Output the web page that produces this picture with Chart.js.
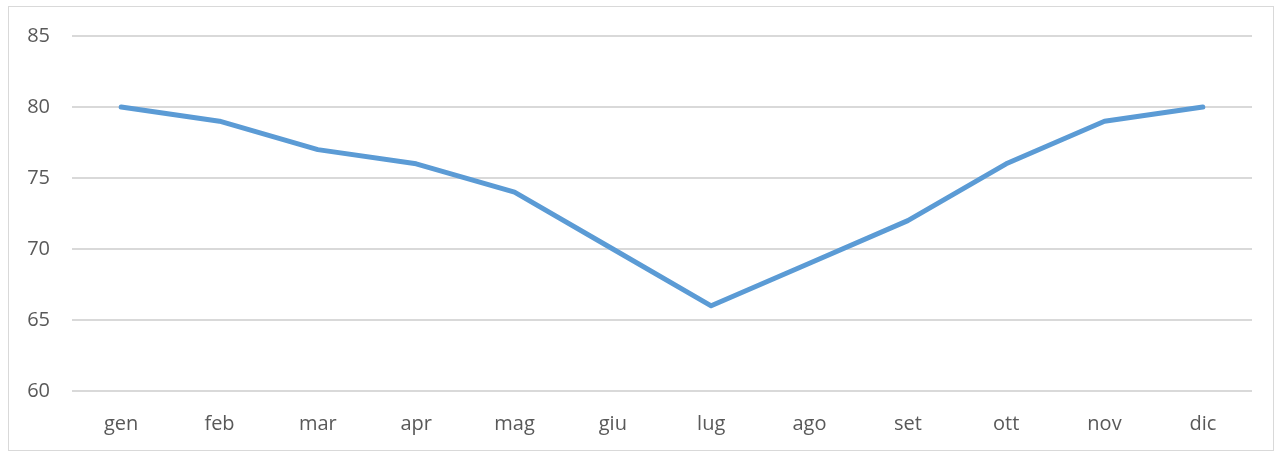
<!DOCTYPE html>
<html>
<head>
<meta charset="utf-8">
<script src="https://cdn.jsdelivr.net/npm/chart.js@4"></script>
<style>
  body { margin: 0; background: #fff; }
  #box { position: absolute; left: 8px; top: 6px; width: 1264px; height: 443px; border: 1px solid #d9d9d9; }
</style>
</head>
<body>
<div id="box"><canvas id="grafico" width="1264" height="443"></canvas></div>
<script>
var mesi = ['gen', 'feb', 'mar', 'apr', 'mag', 'giu', 'lug', 'ago', 'set', 'ott', 'nov', 'dic']
var valori = [80, 79, 77, 76, 74, 70, 66, 69, 72, 76, 79, 80]
var tickY = [60, 65, 70, 75, 80, 85]

GraficoDiLinea()

function GraficoDiLinea() {
    var ctx = document.getElementById('grafico').getContext('2d');
    var grafico = new Chart(ctx, {
        type: 'line',
        data: {
            labels: mesi,
            datasets: [{
                data: valori,
                borderColor: '#5B9BD5',
                backgroundColor: '#5B9BD5',
                borderWidth: 5,
                borderCapStyle: 'round',
                borderJoinStyle: 'round',
                pointRadius: 0,
                tension: 0
            }]
        },
        options: {
            responsive: false,
            animation: false,
            layout: { padding: { top: 29, right: 21, left: 0, bottom: 0 } },
            plugins: { legend: { display: false }, tooltip: { enabled: false } },
            scales: {
                x: {
                    offset: true,
                    grid: { display: false, drawTicks: false },
                    border: { display: false },
                    ticks: { color: '#595959', font: { family: 'Open Sans', size: 20 }, padding: 21, maxRotation: 0 },
                    afterFit: function (s) { s.height = 59 }
                },
                y: {
                    min: 60,
                    max: 85,
                    afterBuildTicks: function (s) { s.ticks = tickY.map(function (v) { return { value: v } }) },
                    grid: { color: '#d9d9d9', lineWidth: 2, drawTicks: false },
                    border: { display: false },
                    ticks: { color: '#595959', font: { family: 'Open Sans', size: 20 }, padding: 22 },
                    afterFit: function (s) { s.width = 63; s.paddingTop = 0; s.paddingBottom = 0 }
                }
            }
        }
    });
}
</script>
</body>
</html>
